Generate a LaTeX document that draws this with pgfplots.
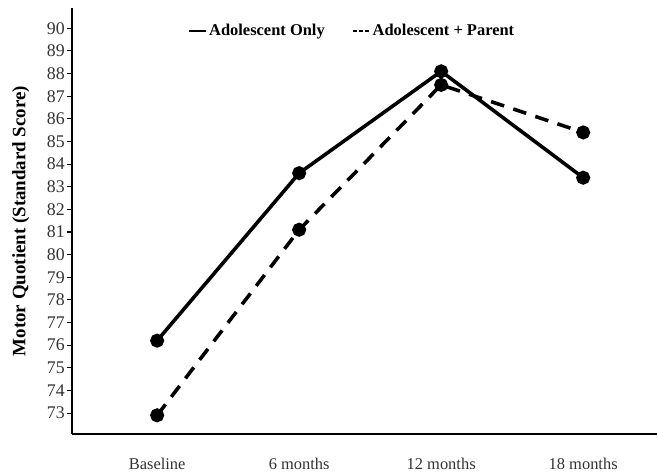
\documentclass[border=0pt]{standalone}
\usepackage{pgfplots}
\pgfplotsset{compat=1.18}
\usepackage{fontspec}
\setmainfont{Liberation Serif}
\begin{document}
\begin{tikzpicture}[x=1pt,y=1pt]
\begin{axis}[
  scale only axis,
  width=427pt, height=311pt,
  xmin=-0.6, xmax=3.52,
  ymin=72.07, ymax=90.9,
  axis x line*=bottom, axis y line*=left,
  axis line style={line width=1.4pt, -},
  xtick={0,1,2,3},
  xticklabels={Baseline, 6 months, 12 months, 18 months},
  x tick style={draw=none},
  xticklabel style={yshift=-10.5pt, font=\fontsize{12}{14}\selectfont},
  ytick={73,74,...,90},
  y tick style={line width=0.8pt, black},
  yticklabel style={font=\fontsize{13}{15}\selectfont, inner xsep=1.5pt},
  tick align=outside,
  major tick length=3.5pt,
  /pgf/number format/assume math mode=true,
  tick label style={text=black!80},
  ylabel={\textbf{Motor Quotient (Standard Score)}},
  ylabel style={font=\fontsize{13.8}{16}\selectfont, at={(axis description cs:0,0.5)}, anchor=south, yshift=27.5pt},
  legend columns=2,
  legend style={draw=none, fill=none, at={(0.48,0.975)}, anchor=north,
    font=\bfseries\fontsize{12}{14}\selectfont,
    /tikz/every even column/.append style={column sep=18pt}},
]
\addplot[black, line width=2.6pt, mark=*, mark options={solid, scale=1.9},
  legend image code/.code={\draw[black, line width=1pt] (0pt,0pt) -- (12pt,0pt);}] coordinates {(0,76.2) (1,83.6) (2,88.1) (3,83.4)};
\addlegendentry{Adolescent Only}
\addplot[black, line width=2.6pt, dash pattern=on 10pt off 7pt, mark=*, mark options={solid, scale=1.9},
  legend image code/.code={\draw[black, line width=1pt, dash pattern=on 3pt off 1.5pt] (0pt,0pt) -- (12pt,0pt);}] coordinates {(0,72.9) (1,81.1) (2,87.5) (3,85.4)};
\addlegendentry{Adolescent + Parent}
\end{axis}
\path ([xshift=-52.5pt, yshift=-29.2pt]current axis.south west);
\path ([yshift=5.8pt]current axis.north east);
\end{tikzpicture}
\end{document}
